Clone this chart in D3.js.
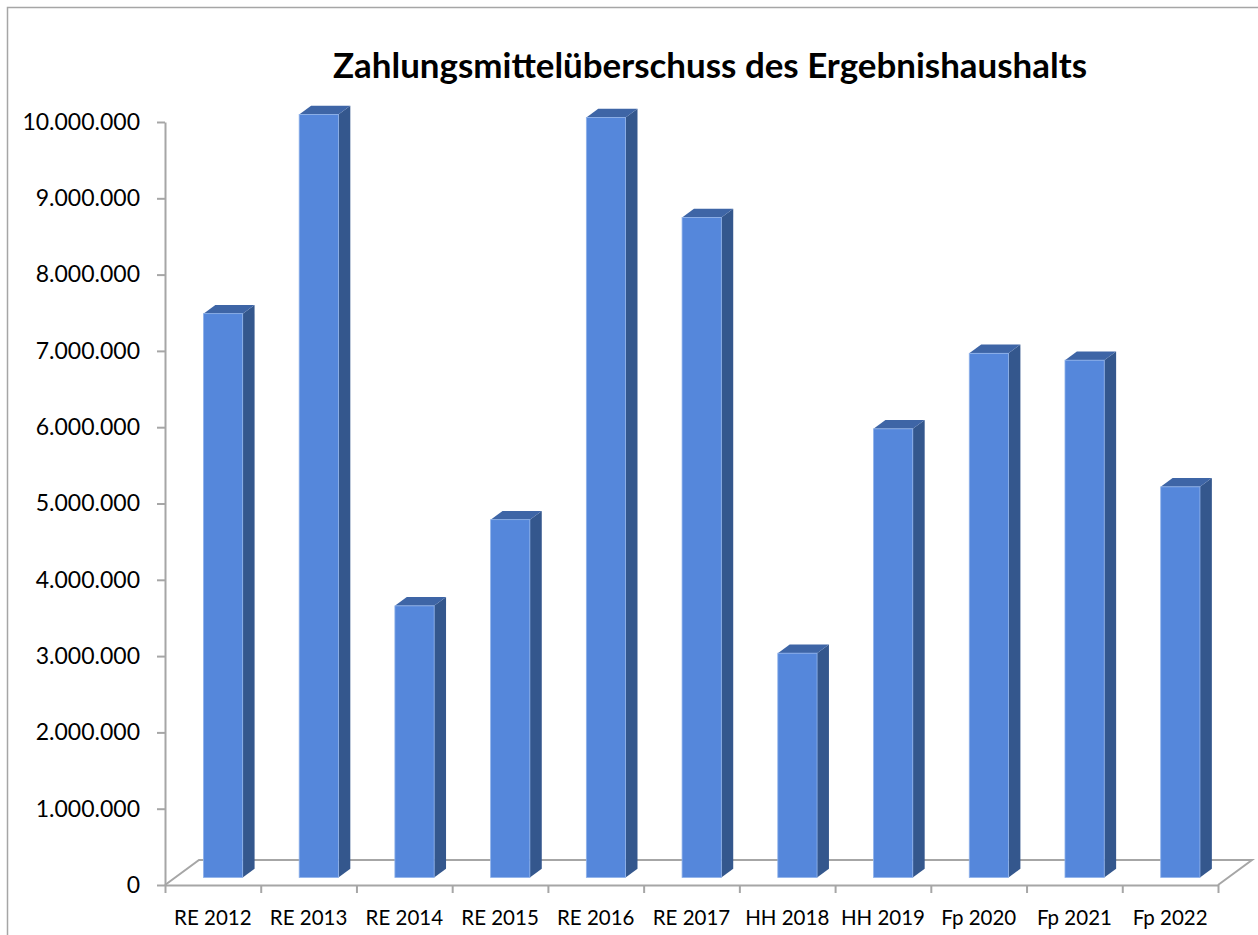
<!DOCTYPE html>
<html>
<head>
<meta charset="utf-8">
<script src="https://cdn.jsdelivr.net/npm/d3@7"></script>
<style>
  body { margin: 0; background: white; }
  text { font-family: Lato, "Open Sans", sans-serif; fill: #000; }
</style>
</head>
<body>
<script>
const width = 1258, height = 935;

// data
const categories = ["RE 2012", "RE 2013", "RE 2014", "RE 2015", "RE 2016", "RE 2017",
                    "HH 2018", "HH 2019", "Fp 2020", "Fp 2021", "Fp 2022"];
const values = [7390000, 10000000, 3560000, 4690000, 9960000, 8650000,
                2940000, 5880000, 6870000, 6780000, 5120000];
const yTicks = [0, 1000000, 2000000, 3000000, 4000000, 5000000,
                6000000, 7000000, 8000000, 9000000, 10000000];
const title = "Zahlungsmittelüberschuss des Ergebnishaushalts";

const de = d3.formatLocale({decimal: ",", thousands: ".", grouping: [3], currency: ["", " €"]});
const fmt = de.format(",d");

const svg = d3.select("body").append("svg")
    .attr("width", width)
    .attr("height", height);

svg.append("rect")
    .attr("width", width)
    .attr("height", height)
    .attr("fill", "white");

// chart frame (runs off the right / bottom edge)
svg.append("rect")
    .attr("x", 7.5).attr("y", 7.5)
    .attr("width", width + 20).attr("height", height + 20)
    .attr("fill", "none")
    .attr("stroke", "#a6a6a6")
    .attr("stroke-width", 1.5);

const plotLeft = 165, plotRight = 1218, plotBottom = 885, plotTop = 122;
const depth = {x: 34, y: -25};          // floor depth
const front = 0.30, back = 0.65;        // bar position inside the depth

const x = d3.scaleBand()
    .domain(categories)
    .range([plotLeft, plotRight])
    .paddingInner(0.59)
    .paddingOuter(0.295);

const xi = d3.scaleLinear()
    .domain([0, categories.length])
    .range([plotLeft, plotRight]);

const y = d3.scaleLinear()
    .domain([0, 10000000])
    .range([plotBottom, plotTop]);

const grey = "#a6a6a6";

// floor
const floor = d3.path();
floor.moveTo(plotLeft, plotBottom);
floor.lineTo(plotLeft + depth.x, plotBottom + depth.y);
floor.lineTo(plotRight + depth.x, plotBottom + depth.y);
floor.lineTo(plotRight, plotBottom);
svg.append("path")
    .attr("d", floor.toString())
    .attr("fill", "none")
    .attr("stroke", grey)
    .attr("stroke-width", 2);

// category boundary ticks on the front edge
const xTickAxis = svg.append("g")
    .attr("transform", `translate(0,${plotBottom})`)
    .call(d3.axisBottom(xi)
        .tickValues(d3.range(categories.length + 1))
        .tickFormat("")
        .tickSizeInner(8)
        .tickSizeOuter(0));
xTickAxis.selectAll("path, line").attr("stroke", grey).attr("stroke-width", 2);

// category labels
const xLab = svg.append("g")
    .attr("transform", `translate(0,${plotBottom})`)
    .call(d3.axisBottom(x).tickSize(0).tickPadding(25));
xLab.select(".domain").remove();
xLab.selectAll("text")
    .style("font-family", "Lato, sans-serif")
    .style("font-size", "20.5px")
    .attr("fill", "#000");

// y axis
const yAxis = svg.append("g")
    .attr("transform", `translate(${plotLeft},0)`)
    .call(d3.axisLeft(y)
        .tickValues(yTicks)
        .tickFormat(fmt)
        .tickSizeInner(8)
        .tickSizeOuter(0)
        .tickPadding(17));
yAxis.selectAll("path, line").attr("stroke", grey).attr("stroke-width", 2);
yAxis.selectAll("text")
    .style("font-family", "Lato, sans-serif")
    .style("font-size", "23px")
    .attr("fill", "#000");

// 3d bars
const fx = depth.x * front, fy = depth.y * front;
const bx = depth.x * (back - front), by = depth.y * (back - front);
const bw = x.bandwidth();

const bars = svg.append("g").selectAll("g")
    .data(categories.map((c, i) => ({c, v: values[i]})))
    .enter().append("g");

bars.append("path")   // side face
    .attr("fill", "#34578d")
    .attr("d", d => {
        const xr = x(d.c) + fx + bw, yt = y(d.v) + fy, yb = y(0) + fy;
        return `M${xr},${yt}L${xr + bx},${yt + by}L${xr + bx},${yb + by}L${xr},${yb}Z`;
    });

bars.append("path")   // top face
    .attr("fill", "#3e65a6")
    .attr("d", d => {
        const xl = x(d.c) + fx, xr = xl + bw, yt = y(d.v) + fy;
        return `M${xl},${yt}L${xr},${yt}L${xr + bx},${yt + by}L${xl + bx},${yt + by}Z`;
    });

bars.append("rect")   // front face
    .attr("x", d => x(d.c) + fx)
    .attr("y", d => y(d.v) + fy)
    .attr("width", bw)
    .attr("height", d => y(0) - y(d.v))
    .attr("fill", "#5587db")
    .attr("stroke", "#8fb2ea")
    .attr("stroke-width", 0.8);

// title, fitted to the width it has in the picture
const t = svg.append("text")
    .attr("x", 710)
    .attr("y", 78)
    .attr("text-anchor", "middle")
    .style("font-family", "Lato, sans-serif")
    .style("font-weight", "bold")
    .style("font-size", "30px")
    .text(title);
const tw = t.node().getComputedTextLength();
t.style("font-size", (30 * 754 / tw).toFixed(2) + "px");
</script>
</body>
</html>
